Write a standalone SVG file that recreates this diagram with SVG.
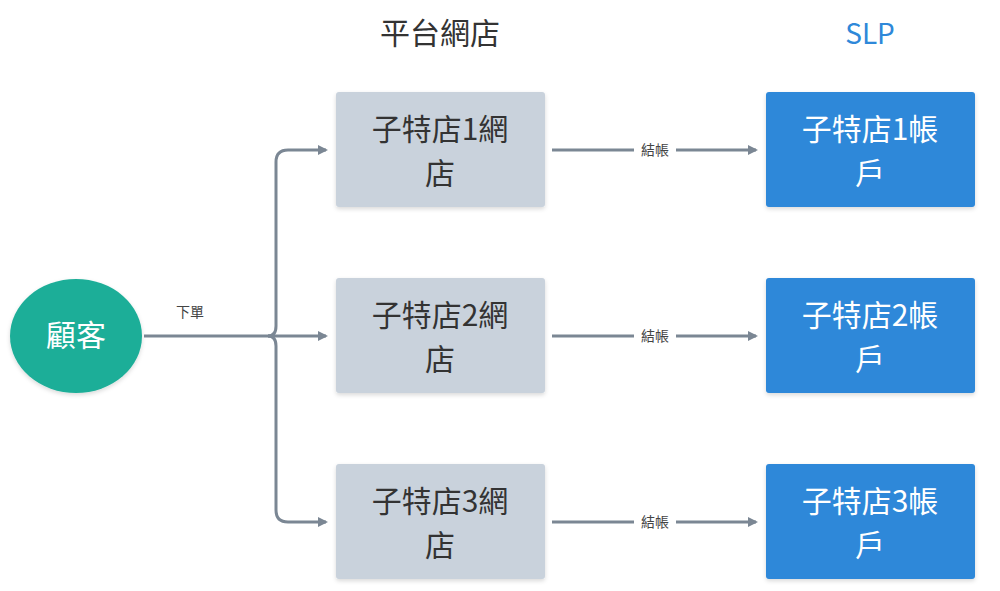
<svg xmlns="http://www.w3.org/2000/svg" width="1000" height="591" viewBox="0 0 1000 591">
<style>
text{font-family:"Noto Sans CJK TC","Noto Sans",sans-serif;text-anchor:middle}
.g{fill:#c9d2dc}
.b{fill:#2e88d9}
.t{font-size:30px;fill:#333}
.w{font-size:30px;fill:#fff}
.c{fill:none;stroke:#7b8794;stroke-width:3}
.l{font-size:14px;fill:#444}
</style>
<defs>
<marker id="a" markerWidth="10" markerHeight="10" refX="8" refY="5" orient="auto" markerUnits="userSpaceOnUse"><path d="M0,0L10,5L0,10z" fill="#7b8794"/></marker>
<filter id="s" x="-10%" y="-10%" width="120%" height="130%"><feDropShadow dx="0" dy="2" stdDeviation="2" flood-opacity="0.15"/></filter>
</defs>
<rect width="1000" height="591" fill="#fff"/>
<text x="440" y="44" font-size="30" fill="#333">平台網店</text>
<text x="870" y="44" font-size="28" fill="#2e88d9">SLP</text>
<g id="connectors">
<path class="c" d="M144,336H268" />
<path class="c" d="M268,336Q276,336 276,326V162Q276,150 288,150H326" marker-end="url(#a)"/>
<path class="c" d="M268,336H326" marker-end="url(#a)"/>
<path class="c" d="M268,336Q276,336 276,346V510Q276,522 288,522H326" marker-end="url(#a)"/>
<text class="l" x="190" y="317">下單</text>
<path class="c" d="M552,150H634M676,150H756" marker-end="url(#a)"/>
<path class="c" d="M552,336H634M676,336H756" marker-end="url(#a)"/>
<path class="c" d="M552,522H634M676,522H756" marker-end="url(#a)"/>
<text class="l" x="655" y="155">結帳</text>
<text class="l" x="655" y="341">結帳</text>
<text class="l" x="655" y="527">結帳</text>
</g>
<g id="customer"><ellipse cx="76" cy="336" rx="66" ry="57" fill="#1fae98" filter="url(#s)"/><text x="76" y="346" font-size="30" fill="#fff">顧客</text></g>
<g id="shop1"><rect class="g" x="336" y="92" width="209" height="115" rx="3" filter="url(#s)"/><text class="t" x="440" y="140">子特店1網</text><text class="t" x="440" y="184">店</text></g>
<g id="shop2"><rect class="g" x="336" y="278" width="209" height="115" rx="3" filter="url(#s)"/><text class="t" x="440" y="326">子特店2網</text><text class="t" x="440" y="370">店</text></g>
<g id="shop3"><rect class="g" x="336" y="464" width="209" height="115" rx="3" filter="url(#s)"/><text class="t" x="440" y="512">子特店3網</text><text class="t" x="440" y="556">店</text></g>
<g id="acct1"><rect class="b" x="766" y="92" width="209" height="115" rx="3" filter="url(#s)"/><text class="w" x="870" y="140">子特店1帳</text><text class="w" x="870" y="184">戶</text></g>
<g id="acct2"><rect class="b" x="766" y="278" width="209" height="115" rx="3" filter="url(#s)"/><text class="w" x="870" y="326">子特店2帳</text><text class="w" x="870" y="370">戶</text></g>
<g id="acct3"><rect class="b" x="766" y="464" width="209" height="115" rx="3" filter="url(#s)"/><text class="w" x="870" y="512">子特店3帳</text><text class="w" x="870" y="556">戶</text></g>
</svg>
